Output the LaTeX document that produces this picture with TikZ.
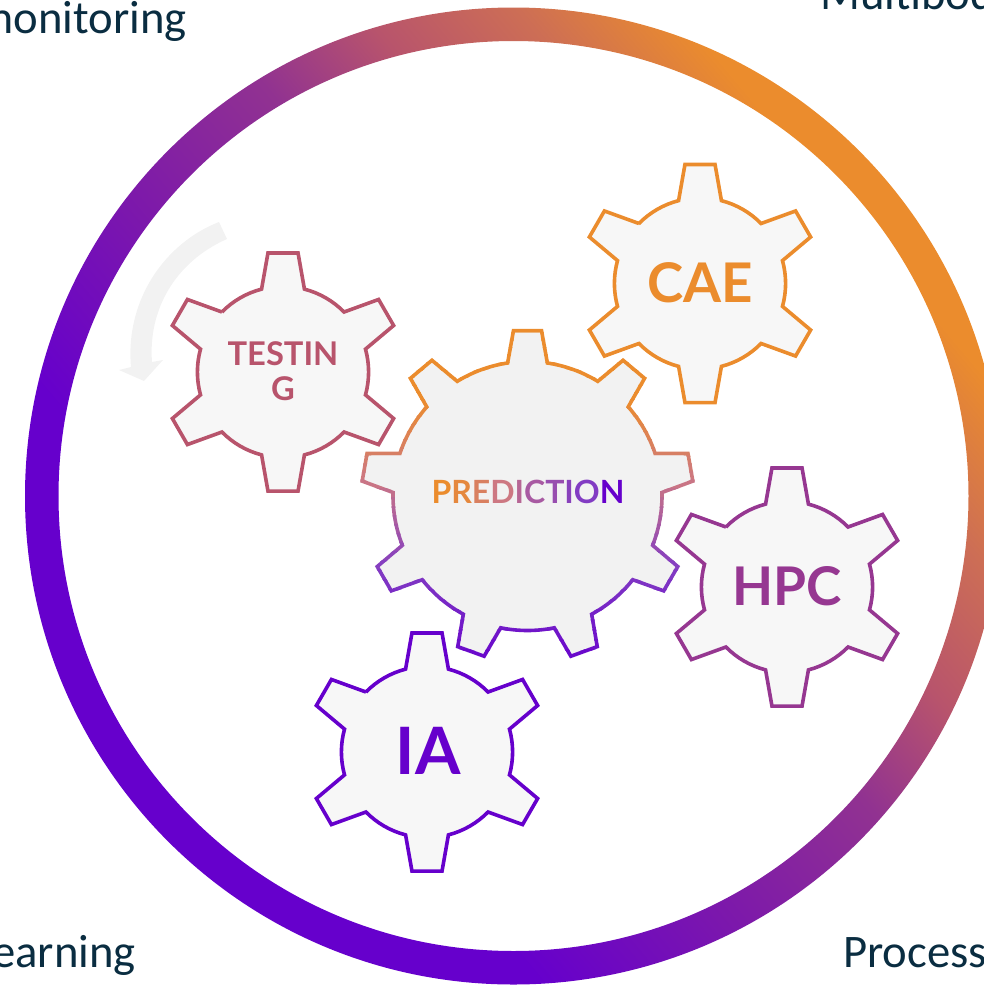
\documentclass[tikz,border=0pt]{standalone}
\usepackage{fontspec}
\setmainfont{Carlito}
\newfontfamily\gearfont{Lato}

\definecolor{caeorange}{RGB}{235,140,45}
\definecolor{testrose}{RGB}{184,84,108}
\definecolor{hpcviolet}{RGB}{150,55,145}
\definecolor{iapurple}{RGB}{102,0,204}
\definecolor{predpink}{RGB}{205,120,130}
\definecolor{predviolet}{RGB}{130,60,195}
\definecolor{captionblue}{RGB}{10,45,65}
\definecolor{gearfill}{RGB}{247,247,247}
\definecolor{biggearfill}{RGB}{242,242,242}
\definecolor{ringmidA}{RGB}{125,25,170}
\definecolor{ringmidB}{RGB}{145,50,145}
\definecolor{ringmidC}{RGB}{184,84,108}
\definecolor{ringmidD}{RGB}{205,110,85}

\pgfdeclarehorizontalshading{ringfade}{100bp}{
	color(0bp)=(iapurple);
	color(35bp)=(iapurple);
	color(45bp)=(ringmidA);
	color(53.75bp)=(ringmidB);
	color(60bp)=(ringmidC);
	color(66.25bp)=(ringmidD);
	color(72.5bp)=(caeorange);
	color(100bp)=(caeorange)}

% #1 teeth, #2 body radius, #3 tip radius, #4 half angle at the base, #5 half angle at the tip
\newcommand{\gearpath}[5]{
	(90+360/#1-#4:#2)
	foreach \k [evaluate=\k as \a using 90+\k*360/#1] in {1,...,#1}{
		-- (\a-#5:#3) -- (\a+#5:#3) -- (\a+#4:#2)
		arc[start angle=\a+#4,end angle=\a+360/#1-#4,radius=#2]
	} -- cycle
}

\begin{document}
\begin{tikzpicture}[x=0.75pt,y=0.75pt]

\tikzstyle{smallgear}=[line width=2.7pt,miter limit=2,fill=gearfill]
\tikzstyle{gearlabel}=[font=\gearfont\bfseries,align=center,inner sep=0pt]
\tikzstyle{caption}=[font=\fontsize{35}{35}\selectfont,text=captionblue,inner sep=0pt]

\clip[use as bounding box](0,0)rectangle(984,-986);

% outer ring
\shade[shading=ringfade,shading angle=40,even odd rule]
	(513.5,-496)circle[radius=488.5](513.5,-496)circle[radius=455];

% rotation arrow
\fill[biggearfill](219,-222) .. controls (165,-243) and (125,-300) .. (131,-367)
	--(119,-370)--(144,-381)--(163,-360)--(152,-362)
	.. controls (148,-310) and (175,-262) .. (227,-239)--cycle;

% small gears
\draw[smallgear,draw=caeorange,shift={(700,-283.5)}]\gearpath{6}{85.6}{120}{14.5}{7.2};
\draw[smallgear,draw=testrose,shift={(283,-372)}]\gearpath{6}{85.6}{120}{14.5}{7.2};
\draw[smallgear,draw=hpcviolet,shift={(787,-587)}]\gearpath{6}{85.6}{120}{14.5}{7.2};
\draw[smallgear,draw=iapurple,shift={(427,-752)}]\gearpath{6}{85.6}{120}{14.5}{7.2};

% big gear, stroke coloured band by band
\fill[biggearfill,shift={(527.5,-496)}]\gearpath{9}{134.5}{166}{8.5}{4.85};
\foreach \ytop/\yhgt/\cfrom/\cto in {325/75/caeorange/caeorange,400/80/caeorange/predpink,480/90/predpink/predviolet,570/100/predviolet/iapurple}{
	\foreach \s in {0,...,9}{
		\pgfmathsetmacro\p{\s*10+5}
		\begin{scope}
			\clip(340,-\ytop-\s*\yhgt/10+0.4)rectangle(720,-\ytop-\s*\yhgt/10-\yhgt/10-0.4);
			\draw[line width=2.7pt,miter limit=2,draw=\cto!\p!\cfrom,shift={(527.5,-496)}]\gearpath{9}{134.5}{166}{8.5}{4.85};
		\end{scope}
	}
}

% labels
\node[gearlabel,text=caeorange,font=\gearfont\bfseries\fontsize{41}{41}\selectfont](cae)at(700,-283){CAE};
\node[gearlabel,text=testrose,font=\gearfont\bfseries\fontsize{24.5}{26}\selectfont](testing)at(283,-371){TESTIN\\G};
\node[gearlabel,text=hpcviolet,font=\gearfont\bfseries\fontsize{40}{40}\selectfont](hpc)at(787,-586){HPC};
\node[gearlabel,text=iapurple,font=\gearfont\bfseries\fontsize{49}{49}\selectfont](ia)at(428,-751){IA};
\node[gearlabel,font=\gearfont\bfseries\fontsize{24}{24}\selectfont](prediction)at(528,-492){%
	\textcolor{caeorange}{P}\textcolor{caeorange!80!predpink}{R}\textcolor{caeorange!40!predpink}{E}%
	\textcolor{predpink}{D}\textcolor{predpink!70!predviolet}{I}\textcolor{predpink!50!predviolet}{C}%
	\textcolor{predpink!30!predviolet}{T}\textcolor{predviolet!90!predpink}{I}\textcolor{predviolet}{O}%
	\textcolor{iapurple}{N}};

% captions cut by the page
\node[caption,anchor=base east](monitoring)at(187,-33){monitoring};
\node[caption,anchor=base west](multibody)at(820,-9){Multibod};
\node[caption,anchor=base east](learning)at(136,-967){earning};
\node[caption,anchor=base west](process)at(843,-967){Process};

\end{tikzpicture}
\end{document}
